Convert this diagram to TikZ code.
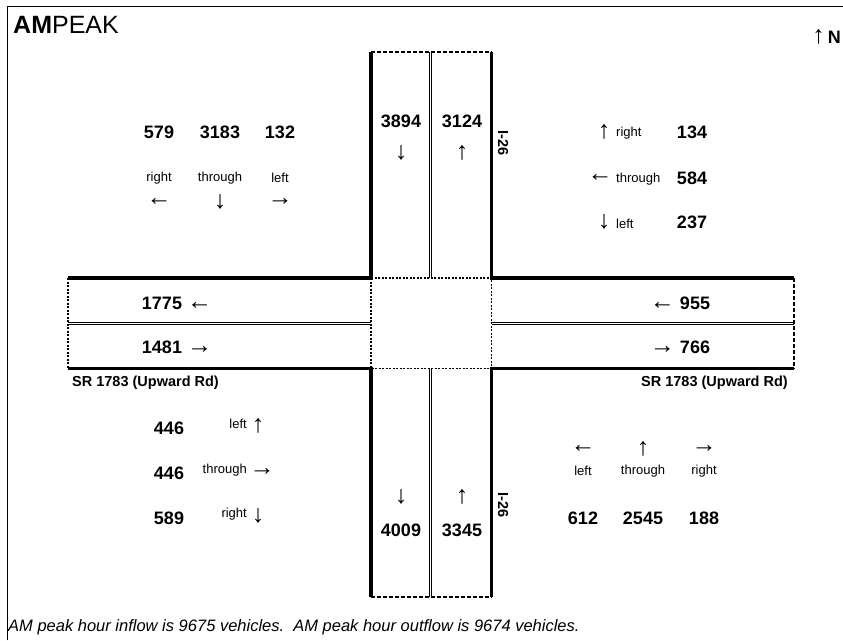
\documentclass[tikz,border=0pt]{standalone}
\usepackage{fontspec}
\setmainfont{Liberation Sans}
\usetikzlibrary{positioning}
\newcommand\dirmark[1]{{\fontsize{25}{25}\selectfont\mdseries #1}}

\begin{document}
\begin{tikzpicture}[
  x=1pt, y=-1pt,
  every node/.style={inner sep=0pt, font=\fontsize{13}{15}\selectfont},
  count/.style={font=\fontsize{18}{20}\selectfont\bfseries},
  turn/.style={font=\fontsize{13}{15}\selectfont},
  glyph/.style={font=\fontsize{25}{25}\selectfont},
  roadname/.style={font=\fontsize{14.5}{16}\selectfont\bfseries},
  curb/.style={line width=3.5pt},
  median/.style={double, line width=0.9pt, double distance=1.8pt},
  roadend/.style={line width=1.3pt, dash pattern=on 4pt off 2pt},
  junction/.style={line width=1.3pt, dash pattern=on 2pt off 1.5pt}
]
\useasboundingbox (0,0) rectangle (843,640);
\draw[line width=1pt] (7,640) -- (7,6) -- (843,6);
% road geometry
\coordinate (NW) at (371,278);
\coordinate (NE) at (491.7,278);
\coordinate (SW) at (371,368.5);
\coordinate (SE) at (491.7,368.5);
\draw[curb] (68,278) -- (NW) -- (371,52);
\draw[curb] (794,278) -- (NE) -- (491.7,52);
\draw[curb] (68,368.5) -- (SW) -- (371,597);
\draw[curb] (794,368.5) -- (SE) -- (491.7,597);
\draw[median] (430.5,52) -- (430.5,278);
\draw[median] (430.5,368.5) -- (430.5,597);
\draw[median] (68,323.5) -- (NW|-0,323.5);
\draw[median] (NE|-0,323.5) -- (794,323.5);
\draw[roadend] (371,52) -- (491.7,52);
\draw[roadend] (371,597) -- (491.7,597);
\draw[roadend] (794,278) -- (794,368.5);
\draw[junction] (68,278) -- (68,368.5);
\draw[junction] (NW) rectangle (SE);
% headings
\node[anchor=west, font=\fontsize{25}{28}\selectfont] (title) at (13,25)
  {\textbf{AM}PEAK};
\node[anchor=east, font=\fontsize{18}{20}\selectfont\bfseries] (north) at (841,37)
  {\dirmark{↑}\,N};
\node[anchor=base west, font=\fontsize{16.5}{18}\selectfont\itshape] (note) at (8,631)
  {AM peak hour inflow is 9675 vehicles.\ \ AM peak hour outflow is 9674 vehicles.};
\node[roadname, anchor=west] (srWest) at (72,382.5) {SR 1783 (Upward Rd)};
\node[roadname, anchor=east] (srEast) at (788,382.5) {SR 1783 (Upward Rd)};
\node[roadname, rotate=-90] (iNorth) at (503,143) {I-26};
\node[roadname, rotate=-90] (iSouth) at (503,505) {I-26};
% approach volumes on the legs
\node[count] (inN) at (401,121) {3894};
\node[glyph] (inNarr) at (401,153) {↓};
\node[count] (outN) at (462,121) {3124};
\node[glyph] (outNarr) at (462,153) {↑};
\node[glyph] (outSarr) at (401,497) {↓};
\node[count] (outS) at (401,530) {4009};
\node[glyph] (inSarr) at (462,497) {↑};
\node[count] (inS) at (462,530) {3345};
\node[count] (outW) at (177,303) {1775 \dirmark{←}};
\node[count] (inW) at (177,347) {1481 \dirmark{→}};
\node[count] (inE) at (680,303) {\dirmark{←} 955};
\node[count] (outE) at (680,347) {\dirmark{→} 766};
% turning movements
\foreach \x/\n/\turn/\arr in {159/579/right/←, 220/3183/through/↓, 280/132/left/→}{
  \node[count] (nw\n) at (\x,132) {\n};
  \node[turn] (nwTurn\n) at (\x,178) {\turn};
  \node[glyph] (nwArr\n) at (\x,202) {\arr};
}
\foreach \x/\y/\arr/\turn/\n in {604/132/↑/right/134, 600/178/←/through/584, 604/222/↓/left/237}{
  \node[glyph] (neArr\n) at (\x,\y) {\arr};
  \node[turn, anchor=west] (neTurn\n) at (616,\y+1.5) {\turn};
  \node[count] (ne\n) at (692,\y) {\n};
}
\foreach \x/\y/\arr/\turn/\n in {258/426/↑/left/446a, 262/472/→/through/446b, 258/516/↓/right/589}{
  \node[glyph] (swArr\n) at (\x,\y) {\arr};
  \node[turn, anchor=east] (swTurn\n) at (247,\y-2) {\turn};
}
\node[count] (sw446a) at (169,428) {446};
\node[count] (sw446b) at (169,473) {446};
\node[count] (sw589) at (169,518) {589};
\foreach \x/\n/\turn/\arr in {583/612/left/←, 643/2545/through/↑, 704/188/right/→}{
  \node[glyph] (seArr\n) at (\x,449) {\arr};
  \node[turn] (seTurn\n) at (\x,471) {\turn};
  \node[count] (se\n) at (\x,518) {\n};
}
\end{tikzpicture}
\end{document}
